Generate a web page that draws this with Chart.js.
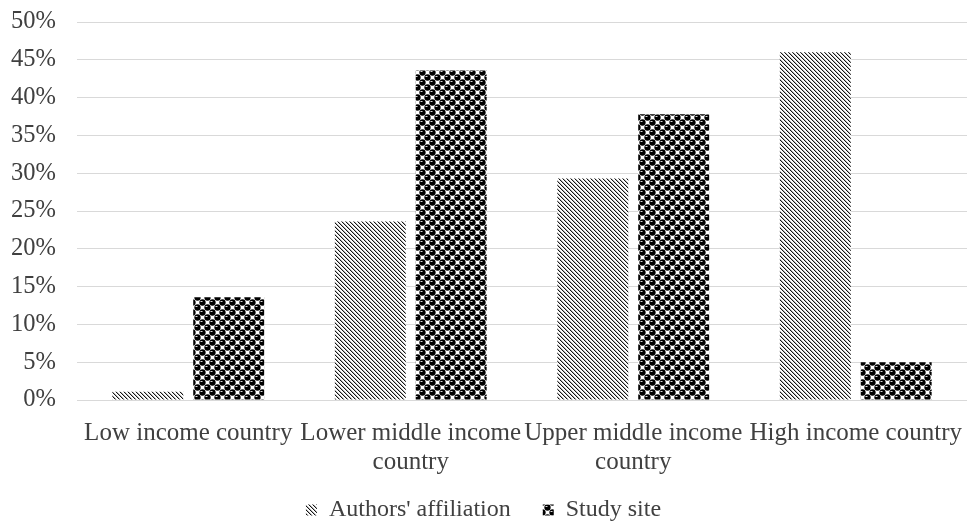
<!DOCTYPE html>
<html>
<head>
<meta charset="utf-8">
<script src="https://cdn.jsdelivr.net/npm/chart.js@4/dist/chart.umd.min.js"></script>
<style>
  html, body { margin: 0; padding: 0; background: #ffffff; }
  #c { display: block; }
</style>
</head>
<body>
<canvas id="c" width="967" height="532"></canvas>
<script>
// Share of papers by World Bank income group (%)
const categories = [
  ["Low income country"],
  ["Lower middle income", "country"],
  ["Upper middle income", "country"],
  ["High income country"]
];
const authorsAffiliation = [1.1, 23.6, 29.3, 46.0];
const studySite = [13.6, 43.6, 37.8, 5.0];
const yTickMin = 0;
const yTickMax = 50;
const yTickStep = 5;
const seriesNames = ["Authors' affiliation", "Study site"];

const FONT = "'Liberation Serif', 'Times New Roman', serif";
const TEXT = '#404040';

// Fine downward-diagonal hatching
function stripePattern(ctx) {
  const c = document.createElement('canvas');
  c.width = 4; c.height = 4;
  const g = c.getContext('2d');
  g.fillStyle = '#ffffff';
  g.fillRect(0, 0, 4, 4);
  for (let i = 0; i < 4; i++) {
    g.fillStyle = '#151515';
    g.fillRect(i, i, 1, 1);
    g.fillStyle = '#b5b5b5';
    g.fillRect((i + 1) % 4, i, 1, 1);
  }
  return ctx.createPattern(c, 'repeat');
}

// Staggered black spheres with a small highlight
function spherePattern(ctx) {
  const s = 10;
  const c = document.createElement('canvas');
  c.width = s; c.height = s;
  const g = c.getContext('2d');
  g.fillStyle = '#ffffff';
  g.fillRect(0, 0, s, s);
  const centres = [[2.5, 2.5], [7.5, 7.5]];
  for (const [cx, cy] of centres) {
    for (let dx = -s; dx <= s; dx += s) {
      for (let dy = -s; dy <= s; dy += s) {
        g.fillStyle = '#000000';
        g.beginPath();
        g.arc(cx + dx, cy + dy, 3.15, 0, Math.PI * 2);
        g.fill();
        g.fillStyle = '#d8d8d8';
        g.fillRect(cx + dx - 2, cy + dy - 1.5, 2, 1);
      }
    }
  }
  return ctx.createPattern(c, 'repeat');
}

const canvas = document.getElementById('c');
const ctx = canvas.getContext('2d');

const yTickValues = [];
for (let v = yTickMin; v <= yTickMax; v += yTickStep) yTickValues.push(v);

new Chart(ctx, {
  type: 'bar',
  data: {
    labels: categories,
    datasets: [
      {
        label: seriesNames[0],
        data: authorsAffiliation,
        backgroundColor: stripePattern(ctx),
        borderWidth: 0
      },
      {
        label: seriesNames[1],
        data: studySite,
        backgroundColor: spherePattern(ctx),
        borderWidth: 0
      }
    ]
  },
  options: {
    responsive: false,
    animation: false,
    devicePixelRatio: 1,
    categoryPercentage: 0.727,
    barPercentage: 0.877,
    layout: { padding: { top: 22, right: 0, bottom: 0, left: 0 } },
    plugins: {
      tooltip: { enabled: false },
      legend: {
        position: 'bottom',
        labels: {
          boxWidth: 11,
          boxHeight: 11,
          padding: 32,
          color: TEXT,
          font: { family: FONT, size: 24 }
        }
      }
    },
    scales: {
      x: {
        grid: { display: false },
        border: { display: false },
        ticks: {
          color: TEXT,
          font: { family: FONT, size: 25, lineHeight: 1.16 },
          maxRotation: 0,
          minRotation: 0,
          autoSkip: false,
          padding: 11
        },
        afterFit(scale) {
          scale.height = 66;
          // let the outer labels reach the canvas edges; two-line labels may overlap the legend gap
          scale.paddingLeft = 0;
          scale.paddingRight = 0;
          scale._computeLabelArea = () => undefined;
        }
      },
      y: {
        min: yTickMin,
        max: yTickMax,
        afterBuildTicks(scale) {
          scale.ticks = yTickValues.map(v => ({ value: v }));
        },
        ticks: {
          color: TEXT,
          font: { family: FONT, size: 24.5 },
          padding: 21,
          callback: v => v + '%'
        },
        grid: { color: '#d9d9d9', lineWidth: 1, drawTicks: false },
        border: { display: false },
        afterFit(scale) {
          scale.width = 77;
          scale.paddingTop = 0;
          scale.paddingBottom = 0;
        }
      }
    }
  }
});
</script>
</body>
</html>
